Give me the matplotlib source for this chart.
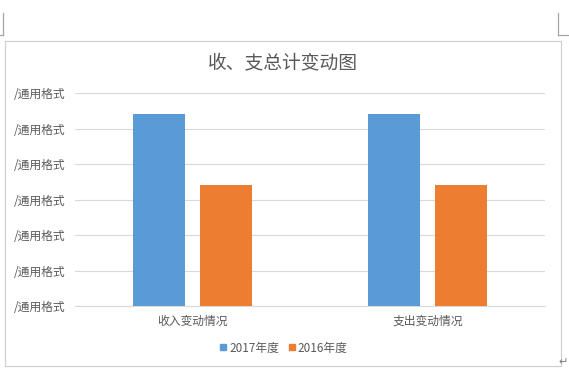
import numpy as np
import matplotlib.pyplot as plt
from matplotlib.lines import Line2D
from matplotlib.patches import Rectangle

plt.rcParams['font.family'] = ['Noto Sans CJK SC', 'DejaVu Sans']

# data (axis units are unknown -> 0..6)
categories = ['收入变动情况', '支出变动情况']
series_names = ['2017年度', '2016年度']
values_2017 = [5.4, 5.4]
values_2016 = [3.4, 3.4]
y_ticks = [0, 1, 2, 3, 4, 5, 6]
y_tick_labels = ['/通用格式'] * 7

blue = '#5b9bd5'
orange = '#ed7d31'
grey_text = '#595959'
grid_col = '#d9d9d9'

fig = plt.figure(figsize=(5.69, 3.72), dpi=100)
ax = fig.add_axes([0.1318, 0.1774, 0.826, 0.5726])

x = np.arange(len(categories))
w = 0.22
off = 0.1426
ax.bar(x - off, values_2017, w, color=blue, label=series_names[0], zorder=3)
ax.bar(x + off, values_2016, w, color=orange, label=series_names[1], zorder=3)

ax.set_xlim(-0.5, 1.5)
ax.set_ylim(0, 6)
ax.set_yticks(y_ticks)
ax.set_yticklabels(y_tick_labels)
ax.set_xticks(x)
ax.set_xticklabels(categories)
ax.tick_params(axis='both', length=0, labelsize=8.5, colors=grey_text)
ax.tick_params(axis='y', pad=7)
ax.tick_params(axis='x', pad=6)
ax.grid(axis='y', color=grid_col, linewidth=0.8, zorder=0)
for s in ['top', 'right', 'left']:
    ax.spines[s].set_visible(False)
ax.spines['bottom'].set_color(grid_col)
ax.spines['bottom'].set_linewidth(0.8)

fig.text(0.497, 1 - 63 / 372, '收、支总计变动图', ha='center', va='center',
         fontsize=13.5, color=grey_text)

handles = [Line2D([], [], marker='s', linestyle='none', markersize=5, color=blue),
           Line2D([], [], marker='s', linestyle='none', markersize=5, color=orange)]
fig.legend(handles, series_names, loc='center', bbox_to_anchor=(0.497, 1 - 348 / 372),
           ncol=2, frameon=False, fontsize=8.5, labelcolor=grey_text,
           handletextpad=0.05, columnspacing=0.6, handlelength=0.9)

# chart border and page marks (word document look)
fig.add_artist(Rectangle((4.5 / 569, 1 - 365.5 / 372), 556 / 569, 324.5 / 372,
                         transform=fig.transFigure, fill=False,
                         edgecolor='#d0d0d0', linewidth=0.9))
fig.add_artist(Line2D([3 / 569, 3 / 569], [1 - 13 / 372, 1 - 35 / 372],
                      transform=fig.transFigure, color='#a6a6a6', linewidth=0.9))
fig.add_artist(Line2D([0, 3 / 569], [1 - 35 / 372, 1 - 35 / 372],
                      transform=fig.transFigure, color='#a6a6a6', linewidth=0.9))
fig.add_artist(Line2D([558 / 569, 558 / 569], [1 - 13 / 372, 1 - 35 / 372],
                      transform=fig.transFigure, color='#a6a6a6', linewidth=0.9))
fig.add_artist(Line2D([558 / 569, 1], [1 - 35 / 372, 1 - 35 / 372],
                      transform=fig.transFigure, color='#a6a6a6', linewidth=0.9))
fig.text(563 / 569, 1 - 362 / 372, '↵', ha='center', va='center',
         fontsize=8, color='#7f7f7f', family='DejaVu Sans')

fig.savefig('out.png', dpi=100)
